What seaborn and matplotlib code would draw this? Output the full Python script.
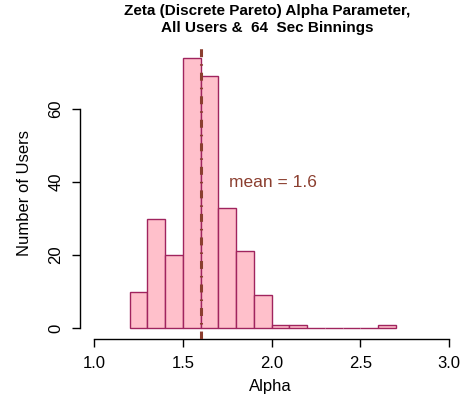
import numpy as np
import pandas as pd
import matplotlib
matplotlib.use("Agg")
import matplotlib.pyplot as plt
import seaborn as sns

# Data
bin_edges = [1.2, 1.3, 1.4, 1.5, 1.6, 1.7, 1.8, 1.9, 2.0, 2.1, 2.2, 2.3, 2.4, 2.5, 2.6, 2.7]
counts = [10, 30, 20, 74, 69, 33, 21, 9, 1, 1, 0, 0, 0, 0, 1]
mean_alpha = 1.6
x_ticks = [1.0, 1.5, 2.0, 2.5, 3.0]
y_ticks = [0, 20, 40, 60]
title = "Zeta (Discrete Pareto) Alpha Parameter,\nAll Users &  64  Sec Binnings"

centers = [(a + b) / 2 for a, b in zip(bin_edges[:-1], bin_edges[1:])]
df = pd.DataFrame({"alpha": centers, "n": counts})

sns.set_style("white")
plt.rcParams["font.family"] = ["Liberation Sans", "DejaVu Sans"]
plt.rcParams["text.color"] = "black"
plt.rcParams["axes.labelcolor"] = "black"
plt.rcParams["xtick.color"] = "black"
plt.rcParams["ytick.color"] = "black"

W, H = 461, 403
fig = plt.figure(figsize=(W / 100, H / 100), dpi=100)
ax = fig.add_axes([80 / W, (H - 339) / H, (461 - 80) / W, (339 - 47) / H])

sns.histplot(data=df, x="alpha", weights="n", bins=bin_edges, ax=ax,
             color="#FFC0CB", edgecolor="#A0245E", linewidth=1.0, alpha=1.0)

ax.axvline(mean_alpha, color="#8B3E2F", lw=2.2, dashes=(2.6, 2.3, 0.5, 2.3), zorder=5)
ax.text(1.76, 40, "mean = 1.6", color="#8B3E2F", fontsize=12.5, va="center", ha="left")

ax.set_xlim(0.92, 0.92 + (461 - 80) / 177.5)
ax.set_ylim(-2.96, 76.96)

for s in ["top", "right"]:
    ax.spines[s].set_visible(False)
ax.spines["left"].set_bounds(0, 60)
ax.spines["bottom"].set_bounds(1.0, 3.0)
for s in ["left", "bottom"]:
    ax.spines[s].set_color("black")
    ax.spines[s].set_linewidth(1.0)

ax.set_xticks(x_ticks)
ax.set_xticklabels([f"{t:.1f}" for t in x_ticks])
ax.set_yticks(y_ticks)
ax.set_yticklabels([str(t) for t in y_ticks], rotation=90, va="center")
ax.tick_params(axis="both", direction="out", length=6, width=1, color="black",
               labelsize=12, pad=6, bottom=True, left=True)

ax.set_xlabel("Alpha", fontsize=12, labelpad=6)
ax.set_ylabel("Number of Users", fontsize=12, labelpad=12)
fig.suptitle(title, fontsize=11, fontweight="bold", y=1 - 4 / H, va="top", x=267.5 / W,
             linespacing=1.25)

fig.savefig("out.png", dpi=100)
